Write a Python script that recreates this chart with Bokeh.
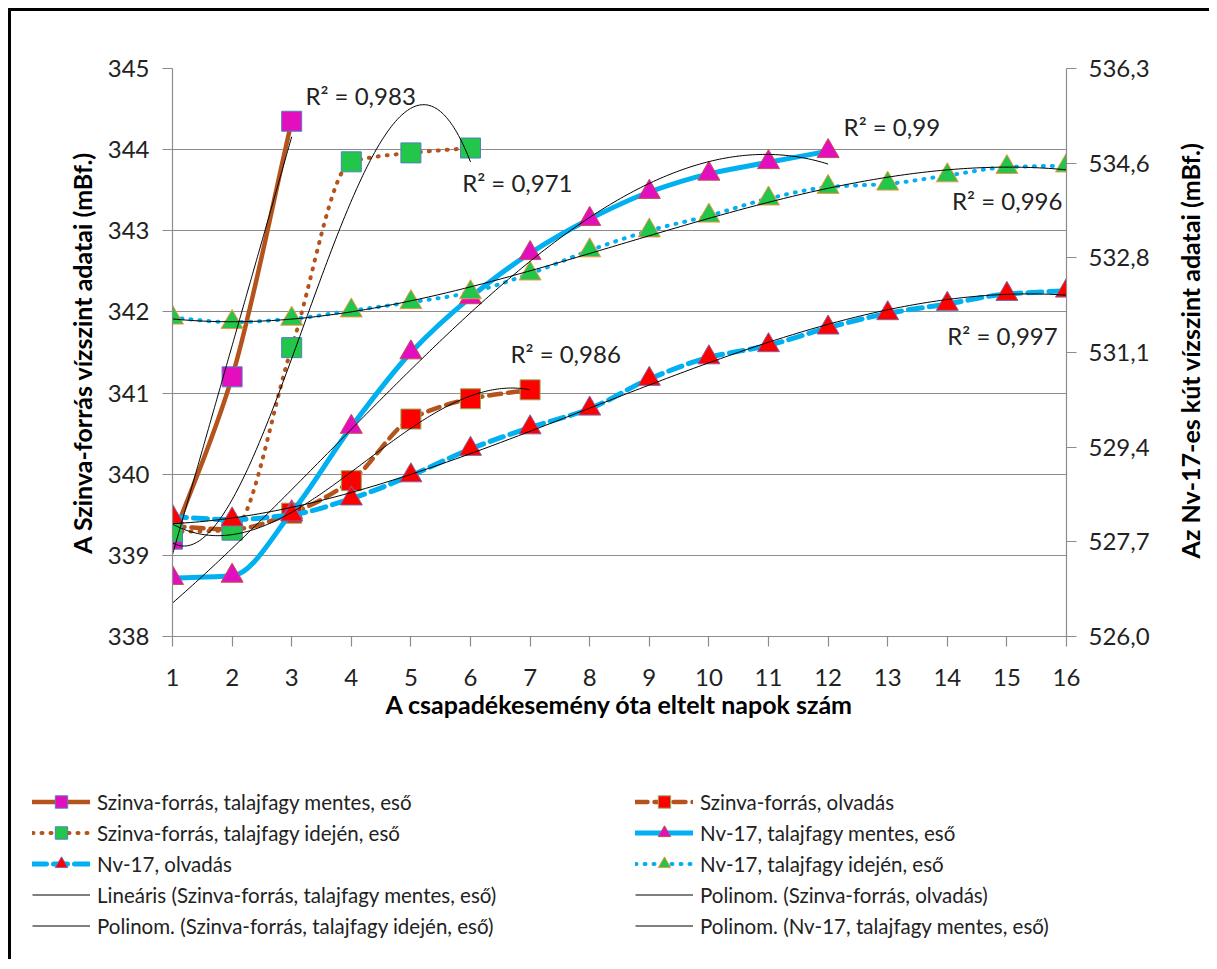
import numpy as np
from bokeh.plotting import figure
from bokeh.layouts import column, row
from bokeh.models import (Range1d, LinearAxis, FixedTicker, Legend, LegendItem, Label, Title)
from bokeh.embed import file_html
from bokeh.resources import INLINE

# ---------------- data ----------------
days_szinva_mentes = [1, 2, 3]
szinva_mentes = [339.2, 341.2, 344.35]

days_szinva_olvadas = [1, 2, 3, 4, 5, 6, 7]
szinva_olvadas = [339.36, 339.32, 339.52, 339.92, 340.68, 340.93, 341.04]

days_szinva_idejen = [1, 2, 3, 4, 5, 6]
szinva_idejen = [339.29, 339.31, 341.56, 343.85, 343.96, 344.02]

days_nv_mentes = [1, 2, 3, 4, 5, 6, 7, 8, 9, 10, 11, 12]
nv_mentes = [527.06, 527.1, 528.25, 529.8, 531.15, 532.15, 532.95, 533.57,
             534.06, 534.39, 534.6, 534.8]

days_nv = [1, 2, 3, 4, 5, 6, 7, 8, 9, 10, 11, 12, 13, 14, 15, 16]
nv_olvadas = [528.17, 528.12, 528.21, 528.5, 528.92, 529.4, 529.79, 530.13,
              530.67, 531.06, 531.28, 531.6, 531.86, 532.03, 532.21, 532.27]
nv_idejen = [531.78, 531.7, 531.76, 531.91, 532.06, 532.24, 532.58, 533.0,
             533.36, 533.63, 533.94, 534.15, 534.21, 534.36, 534.51, 534.54]

x_ticks = list(range(1, 17))
left_ticks = [338, 339, 340, 341, 342, 343, 344, 345]
right_tick_labels = ["526,0", "527,7", "529,4", "531,1", "532,8", "534,6", "536,3"]

r2_labels = ["R\u00b2 = 0,983", "R\u00b2 = 0,971", "R\u00b2 = 0,986",
             "R\u00b2 = 0,99", "R\u00b2 = 0,996", "R\u00b2 = 0,997"]

names = [
    "Szinva-forrás, talajfagy mentes, eső",
    "Szinva-forrás, olvadás",
    "Szinva-forrás, talajfagy idején, eső",
    "Nv-17, talajfagy mentes, eső",
    "Nv-17, olvadás",
    "Nv-17, talajfagy idején, eső",
    "Lineáris (Szinva-forrás, talajfagy mentes, eső)",
    "Polinom. (Szinva-forrás, olvadás)",
    "Polinom. (Szinva-forrás, talajfagy idején, eső)",
    "Polinom. (Nv-17, talajfagy mentes, eső)",
]

x_title = "A csapadékesemény óta eltelt napok szám"
left_title = "A Szinva-forrás vízszint adatai (mBf.)"
right_title = "Az Nv-17-es kút vízszint adatai (mBf.)"

# ---------------- styles ----------------
FONT = "Lato"
TXT = "#222222"
BROWN = "#B4541C"
BLUE = "#00B0F0"
MAGENTA = "#E30FBF"
GREEN = "#22C64A"
RED = "#FF0000"
GRID = "#8C8C8C"

LEFT_LO, LEFT_HI = 338.0, 345.0
RIGHT_LO, RIGHT_HI = 526.0, 536.3

W_TOTAL = 1198
H_MAIN = 725
W_RT = 44
W_MAIN = W_TOTAL - W_RT


def no_align(fig):
    if "frame_align" in fig.properties():
        fig.frame_align = False


p = figure(width=W_MAIN, height=H_MAIN, x_range=Range1d(1, 16),
           y_range=Range1d(LEFT_LO, LEFT_HI),
           output_backend="svg", toolbar_location=None,
           min_border_left=161, min_border_right=99,
           min_border_top=57, min_border_bottom=100)
no_align(p)
p.extra_y_ranges = {"nv": Range1d(RIGHT_LO, RIGHT_HI)}
p.outline_line_color = None
p.background_fill_color = "white"
p.border_fill_color = "white"
p.xgrid.visible = False
p.ygrid.grid_line_color = GRID
p.ygrid.grid_line_width = 1.2


def style_axis(ax):
    ax.axis_line_color = GRID
    ax.axis_line_width = 1.2
    ax.major_tick_line_color = GRID
    ax.major_tick_line_width = 1.2
    ax.major_tick_out = 10
    ax.major_tick_in = 0
    ax.minor_tick_line_color = None
    ax.major_label_text_font = FONT
    ax.major_label_text_font_size = "24px"
    ax.major_label_text_color = TXT
    ax.axis_label_text_font = FONT
    ax.axis_label_text_font_style = "bold"
    ax.axis_label_text_font_size = "25px"
    ax.axis_label_text_color = "#000000"


# x axis
xa = p.xaxis[0]
xa.ticker = FixedTicker(ticks=x_ticks)
style_axis(xa)
xa.major_label_standoff = 22
xa.axis_label = x_title
xa.axis_label_standoff = 0

# left axis
ya = p.yaxis[0]
ya.ticker = FixedTicker(ticks=left_ticks)
style_axis(ya)
ya.major_label_standoff = 13
p.add_layout(Title(text=left_title, align="center", offset=51, standoff=16,
                   text_font=FONT, text_font_style="bold", text_font_size="25px",
                   text_color="#000000"), "left")

# right axis
right_ticks = list(np.linspace(RIGHT_LO, RIGHT_HI, len(right_tick_labels)))
ra = LinearAxis(y_range_name="nv", ticker=FixedTicker(ticks=right_ticks),
                major_label_overrides={t: s for t, s in zip(right_ticks, right_tick_labels)})
style_axis(ra)
ra.major_label_standoff = 12
p.add_layout(ra, "right")


# ---------------- smoothed series lines (shape preserving cubic Bezier) ----------------
def smooth(xs, ys, y_range_name="default", **kw):
    xs = np.asarray(xs, float)
    ys = np.asarray(ys, float)
    h = np.diff(xs)
    d = np.diff(ys) / h
    n = len(xs)
    m = np.zeros(n)
    m[0] = d[0]
    m[-1] = d[-1]
    for i in range(1, n - 1):
        if d[i - 1] * d[i] <= 0:
            m[i] = 0.0
        else:
            m[i] = 2.0 / (1.0 / d[i - 1] + 1.0 / d[i])
    x0, x1 = xs[:-1], xs[1:]
    y0, y1 = ys[:-1], ys[1:]
    cx0 = x0 + h / 3
    cy0 = y0 + m[:-1] * h / 3
    cx1 = x1 - h / 3
    cy1 = y1 - m[1:] * h / 3
    return p.bezier(x0=x0, y0=y0, x1=x1, y1=y1, cx0=cx0, cy0=cy0, cx1=cx1, cy1=cy1,
                    y_range_name=y_range_name, **kw)


series = [
    # xs, ys, range, line color, width, dash, marker, fill, marker line, size
    (days_szinva_mentes, szinva_mentes, "default", BROWN, 4.5, "solid", "square", MAGENTA, "#4F81BD", 20),
    (days_szinva_olvadas, szinva_olvadas, "default", BROWN, 4.5, "12 7", "square", RED, "#8DB255", 20),
    (days_szinva_idejen, szinva_idejen, "default", BROWN, 4, "1 8", "square", GREEN, "#4F81BD", 20),
    (days_nv_mentes, nv_mentes, "nv", BLUE, 5, "solid", "triangle", MAGENTA, "#C0504D", 22),
    (days_nv, nv_olvadas, "nv", BLUE, 5, "14 7", "triangle", RED, "#8064A2", 22),
    (days_nv, nv_idejen, "nv", BLUE, 4, "1 8", "triangle", GREEN, "#F79646", 22),
]

for xs, ys, rn, lc, lw, dash, mk, fc, mlc, sz in series:
    smooth(xs, ys, y_range_name=rn, line_color=lc, line_width=lw, line_dash=dash, line_cap="round")
    p.scatter(xs, ys, y_range_name=rn, marker=mk, size=sz, fill_color=fc,
              line_color=mlc, line_width=1)


# ---------------- trendlines ----------------
def trend(xs, ys, order, y_range_name="default"):
    coef = np.polyfit(xs, ys, order)
    xx = np.linspace(min(xs), max(xs), 200)
    return p.line(xx, np.polyval(coef, xx), y_range_name=y_range_name,
                  line_color="black", line_width=1)


trend(days_szinva_mentes, szinva_mentes, 1)
trend(days_szinva_olvadas, szinva_olvadas, 3)
trend(days_szinva_idejen, szinva_idejen, 3)
trend(days_nv_mentes, nv_mentes, 3, "nv")
trend(days_nv, nv_olvadas, 3, "nv")
trend(days_nv, nv_idejen, 3, "nv")

# ---------------- R² labels ----------------
r2_pos = [(3.23, 344.67), (5.86, 343.6), (6.67, 341.49),
          (12.26, 344.28), (14.08, 343.37), (14.0, 341.71)]
for txt, (x, y) in zip(r2_labels, r2_pos):
    p.add_layout(Label(x=x, y=y, text=txt, text_font=FONT, text_font_size="24px",
                       text_color=TXT, text_align="left", text_baseline="middle"))

# ---------------- right axis title (own narrow panel, reads bottom-to-top) ----------------
rt = figure(width=W_RT, height=H_MAIN, x_range=Range1d(0, W_RT), y_range=Range1d(0, H_MAIN),
            output_backend="svg", toolbar_location=None, min_border=0,
            x_axis_type=None, y_axis_type=None)
no_align(rt)
rt.outline_line_color = None
rt.grid.visible = False
rt.add_layout(Label(x=24, y=H_MAIN - 339, text=right_title, angle=np.pi / 2,
                    text_font=FONT, text_font_style="bold", text_font_size="25px",
                    text_color="#000000", text_align="center", text_baseline="middle"))

# ---------------- legend panel ----------------
lf = figure(width=W_TOTAL, height=223, x_range=Range1d(0, 1), y_range=Range1d(0, 1),
            output_backend="svg", toolbar_location=None, min_border=0,
            x_axis_type=None, y_axis_type=None)
no_align(lf)
lf.outline_line_color = None
lf.grid.visible = False
lf.background_fill_color = "white"
lf.border_fill_color = "white"

items = []
for i, (xs, ys, rn, lc, lw, dash, mk, fc, mlc, sz) in enumerate(series):
    l = lf.line(x=[np.nan], y=[np.nan], line_color=lc, line_width=lw, line_dash=dash,
                line_cap="round")
    s = lf.scatter(x=[np.nan], y=[np.nan], marker=mk, fill_color=fc, line_color=mlc,
                   line_width=1)
    items.append(LegendItem(label=names[i], renderers=[l, s]))
for i in range(4):
    t = lf.line(x=[np.nan], y=[np.nan], line_color="black", line_width=1)
    items.append(LegendItem(label=names[6 + i], renderers=[t]))

col1 = [items[i] for i in (0, 2, 4, 6, 8)]
col2 = [items[i] for i in (1, 3, 5, 7, 9)]


def make_legend(its, loc):
    return Legend(items=its, location=loc, orientation="vertical",
                  glyph_width=58, glyph_height=31, label_height=20,
                  label_standoff=7, spacing=0, padding=0, margin=0,
                  border_line_color=None, background_fill_alpha=0,
                  label_text_font=FONT, label_text_font_size="20.5px",
                  label_text_color=TXT)


lf.add_layout(make_legend(col1, (21, 18)), "center")
lf.add_layout(make_legend(col2, (624, 18)), "center")

layout = column(row(p, rt, spacing=0), lf, spacing=0,
                styles={"border-top": "3px solid black", "border-left": "3px solid black",
                        "margin-top": "8px", "margin-left": "8px"})

open("out.html", "w").write(file_html(layout, INLINE))
